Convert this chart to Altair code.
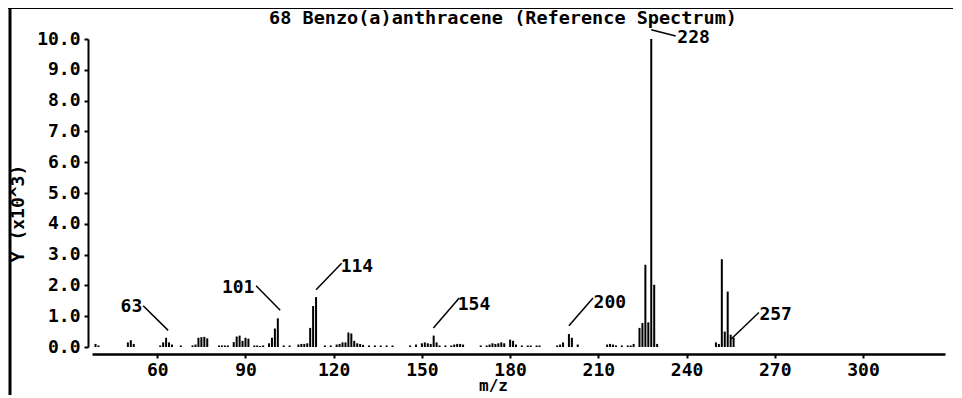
import altair as alt
import pandas as pd

# m/z values and intensities (x10^3 counts)
mz = [39, 40, 50, 51, 52, 61, 62, 63, 64, 65, 68,
      72, 73, 74, 75, 76, 77, 81, 82, 83, 84, 86, 87, 88, 89, 90, 91,
      93, 94, 95, 96, 98, 99, 100, 101, 103, 105,
      108, 109, 110, 111, 112, 113, 114, 117, 119, 121, 122, 123, 124,
      125, 126, 127, 128, 129, 130, 132, 134, 136, 138, 140,
      146, 148, 150, 151, 152, 153, 154, 155, 156, 158, 160, 161, 162, 163, 164,
      170, 172, 173, 174, 175, 176, 177, 178, 180, 181, 182, 184, 186, 187, 189, 190,
      196, 197, 198, 200, 201, 203,
      213, 214, 215, 216, 218, 220, 221, 222, 224, 225, 226, 227, 228, 229, 230,
      250, 251, 252, 253, 254, 255, 256]
intensity = [0.10, 0.05, 0.15, 0.22, 0.10, 0.05, 0.15, 0.30, 0.15, 0.08, 0.05,
             0.05, 0.08, 0.30, 0.32, 0.33, 0.28, 0.05, 0.05, 0.05, 0.05, 0.16, 0.34, 0.37, 0.20, 0.30, 0.27,
             0.05, 0.05, 0.03, 0.05, 0.12, 0.30, 0.60, 0.93, 0.05, 0.05,
             0.08, 0.10, 0.10, 0.12, 0.62, 1.33, 1.62, 0.05, 0.05, 0.08, 0.10, 0.15, 0.15,
             0.47, 0.44, 0.20, 0.12, 0.10, 0.07, 0.05, 0.05, 0.05, 0.05, 0.05,
             0.05, 0.08, 0.12, 0.15, 0.12, 0.10, 0.37, 0.15, 0.05, 0.05, 0.05, 0.08, 0.10, 0.10, 0.08,
             0.05, 0.05, 0.08, 0.12, 0.10, 0.12, 0.15, 0.12, 0.24, 0.20, 0.08, 0.05, 0.05, 0.05, 0.05, 0.05,
             0.05, 0.08, 0.15, 0.42, 0.30, 0.08,
             0.08, 0.10, 0.08, 0.05, 0.05, 0.05, 0.05, 0.10, 0.62, 0.78, 2.67, 0.80, 10.00, 2.02, 0.10,
             0.15, 0.10, 2.85, 0.50, 1.80, 0.40, 0.30]

# peak annotations: label text, label anchor (m/z, intensity) and leader-line ends
label_text = ["63", "101", "114", "154", "200", "228", "257"]
label_mz = [51.2, 87.5, 127.9, 167.7, 213.9, 242.4, 270.3]
label_int = [1.31, 1.92, 2.61, 1.37, 1.43, 10.02, 1.05]
line_mz1 = [55.2, 93.6, 122.7, 162.7, 208.2, 228.0, 264.6]
line_int1 = [1.34, 1.99, 2.72, 1.59, 1.59, 10.30, 1.12]
line_mz2 = [63.7, 101.8, 114.0, 153.9, 200.0, 236.3, 255.2]
line_int2 = [0.54, 1.19, 1.86, 0.62, 0.69, 10.10, 0.26]

x_ticks = [60, 90, 120, 150, 180, 210, 240, 270, 300]
y_ticks = [0, 1, 2, 3, 4, 5, 6, 7, 8, 9, 10]

title_text = ["68 Benzo(a)anthracene (Reference Spectrum)"]

FONT = "DejaVu Sans Mono"
FS = 18
FW = "bold"

spec = pd.DataFrame({"mz": mz, "intensity": intensity, "base": [0.0] * len(mz)})
labels = pd.DataFrame({"text": label_text, "lx": label_mz, "ly": label_int})
leaders = pd.DataFrame({"x1": line_mz1, "y1": line_int1, "x2": line_mz2, "y2": line_int2})
titles = pd.DataFrame({"t": title_text})

xscale = alt.Scale(domain=[37.8, 327.9], nice=False, zero=False)
yscale = alt.Scale(domain=[0, 10], nice=False)

x_axis = alt.Axis(values=x_ticks, title="m/z", grid=False, offset=7,
                  domainColor="black", domainWidth=2.5, tickColor="black",
                  tickWidth=2, tickSize=4, labelFont=FONT, labelFontSize=FS,
                  labelFontWeight=FW,
                  labelColor="black", labelPadding=3, labelOverlap=False,
                  titleFont=FONT, titleFontSize=16, titleFontWeight=FW,
                  titleColor="black", titleX=401, titleY=31, titleBaseline="middle")
y_axis = alt.Axis(values=y_ticks, format=".1f", title="Y (x10^3)", grid=False,
                  offset=4, domainColor="black", domainWidth=2, tickColor="black",
                  tickWidth=2, tickSize=4, labelFont=FONT, labelFontSize=FS,
                  labelFontWeight=FW,
                  labelColor="black", labelPadding=4, labelOverlap=False,
                  titleFont=FONT, titleFontSize=FS, titleFontWeight=FW,
                  titleColor="black", titlePadding=9, titleY=174)

bars = alt.Chart(spec).mark_rule(color="black", strokeWidth=2).encode(
    x=alt.X("mz:Q", scale=xscale, axis=x_axis),
    y=alt.Y("intensity:Q", scale=yscale, axis=y_axis),
    y2="base:Q",
)

lead = alt.Chart(leaders).mark_rule(color="black", strokeWidth=1.5).encode(
    x=alt.X("x1:Q", scale=xscale, axis=x_axis), x2="x2:Q",
    y=alt.Y("y1:Q", scale=yscale, axis=y_axis), y2="y2:Q",
)

text = alt.Chart(labels).mark_text(font=FONT, fontSize=FS, fontWeight=FW,
                                   color="black", align="center",
                                   baseline="middle").encode(
    x=alt.X("lx:Q", scale=xscale, axis=x_axis),
    y=alt.Y("ly:Q", scale=yscale, axis=y_axis),
    text="text:N",
)

title = alt.Chart(titles).mark_text(font=FONT, fontSize=18.5, fontWeight=FW,
                                    color="black", align="center",
                                    baseline="middle").encode(
    x=alt.value(411), y=alt.value(-21), text="t:N")

# page frame (left and top border lines of the scanned plot)
frame_left = alt.Chart(titles).mark_rule(color="black", strokeWidth=3).encode(
    x=alt.value(-82), y=alt.value(-31), y2=alt.value(360))
frame_top = alt.Chart(titles).mark_rule(color="black", strokeWidth=2).encode(
    x=alt.value(-84), x2=alt.value(861), y=alt.value(-31))

chart = alt.layer(frame_left, frame_top, title, bars, lead, text).properties(
    width=853, height=308,
    autosize=alt.AutoSizeParams(type="none"),
    padding={"left": 84, "top": 31, "right": 8, "bottom": 48},
    background="white",
).configure_view(stroke=None)

chart.save("out.html", embed_options={"renderer": "svg", "actions": False})
